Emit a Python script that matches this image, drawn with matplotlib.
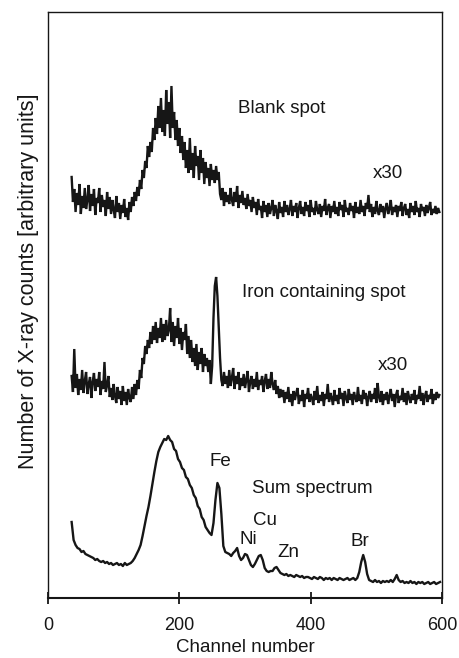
import matplotlib
matplotlib.use("Agg")
import matplotlib.pyplot as plt
import numpy as np

plt.rcParams['font.family'] = ['Liberation Sans', 'DejaVu Sans']

# Channel numbers of the two x30 spectra (every 2nd channel, 36 .. 596)
channels_x30 = list(range(36, 597, 2))
# Channel numbers of the sum spectrum (every 3rd channel, 36 .. 597)
channels_sum = list(range(36, 598, 3))

# Blank spot spectrum (x30, offset), arbitrary units
blank = [
    421, 396, 409, 386, 405, 393, 414, 384, 402, 390,
    410, 389, 398, 413, 387, 404, 392, 409, 383, 400,
    395, 410, 386, 403, 391, 398, 382, 406, 389, 401,
    384, 398, 388, 380, 402, 386, 395, 379, 393, 385,
    399, 381, 390, 378, 396, 386, 401, 392, 406, 397,
    411, 402, 418, 409, 428, 420, 437, 430, 452, 441,
    456, 446, 470, 458, 480, 464, 492, 470, 500, 466,
    488, 462, 508, 474, 496, 460, 512, 470, 486, 458,
    478, 452, 470, 445, 462, 438, 456, 430, 448, 425,
    460, 428, 445, 420, 452, 432, 442, 418, 448, 425,
    440, 414, 436, 420, 430, 412, 434, 418, 428, 415,
    432, 418, 426, 404, 398, 410, 392, 406, 396, 403,
    394, 410, 398, 392, 406, 396, 412, 390, 403, 395,
    407, 393, 400, 389, 404, 392, 398, 386, 401, 390,
    396, 383, 399, 388, 392, 380, 397, 386, 393, 381,
    395, 384, 390, 398, 382, 393, 387, 379, 396, 385,
    391, 381, 397, 386, 393, 383, 389, 398, 382, 392,
    386, 395, 380, 390, 397, 384, 391, 382, 396, 387,
    393, 381, 398, 386, 390, 383, 397, 388, 384, 394,
    381, 392, 387, 399, 383, 390, 394, 380, 392, 386,
    397, 384, 391, 382, 396, 388, 393, 381, 398, 386,
    390, 383, 395, 387, 392, 380, 396, 385, 391, 384,
    398, 386, 392, 382, 395, 389, 403, 386, 394, 381,
    391, 384, 397, 387, 383, 394, 386, 392, 380, 390,
    395, 384, 389, 398, 383, 391, 386, 393, 381, 392,
    387, 396, 382, 390, 394, 383, 389, 380, 395, 386,
    392, 383, 397, 386, 390, 381, 394, 387, 391, 382,
    393, 385, 390, 396, 383, 389, 385, 392, 384, 390,
    386,
]

# Iron containing spot spectrum (x30, offset)
iron = [
    222, 206, 249, 210, 224, 203, 219, 208, 228, 205,
    217, 226, 204, 214, 221, 200, 216, 225, 207, 219,
    211, 226, 203, 217, 209, 236, 206, 213, 222, 201,
    210, 198, 214, 202, 195, 211, 199, 207, 193, 212,
    197, 206, 193, 209, 200, 196, 211, 199, 214, 203,
    218, 209, 228, 220, 240, 234, 252, 244, 258, 250,
    266, 254, 272, 258, 276, 255, 270, 260, 280, 256,
    274, 258, 278, 262, 268, 290, 256, 276, 252, 272,
    260, 280, 254, 270, 248, 266, 258, 274, 244, 262,
    240, 258, 236, 250, 232, 254, 228, 246, 234, 250,
    226, 244, 232, 240, 226, 238, 214, 232, 280, 312,
    321, 302, 272, 240, 218, 212, 226, 214, 222, 210,
    228, 212, 220, 230, 209, 222, 214, 226, 208, 220,
    212, 224, 210, 218, 227, 206, 216, 222, 209, 219,
    211, 226, 208, 218, 213, 222, 206, 217, 224, 209,
    219, 210, 226, 214, 208, 218, 204, 212, 200, 209,
    201, 208, 195, 206, 199, 211, 196, 204, 192, 207,
    198, 205, 210, 194, 203, 197, 208, 191, 204, 199,
    210, 196, 204, 200, 193, 207, 198, 212, 195, 203,
    197, 206, 192, 204, 199, 214, 196, 205, 200, 193,
    208, 197, 203, 194, 210, 199, 205, 192, 207, 200,
    195, 209, 198, 204, 193, 206, 200, 196, 211, 197,
    203, 194, 208, 199, 205, 192, 201, 207, 196, 204,
    199, 210, 195, 215, 201, 196, 207, 193, 204, 198,
    206, 194, 202, 209, 197, 204, 191, 203, 208, 195,
    202, 198, 210, 196, 205, 193, 207, 200, 195, 204,
    198, 208, 194, 203, 199, 212, 197, 205, 193, 202,
    207, 196, 203, 199, 209, 194, 204, 198, 206, 200,
    203,
]

# Sum spectrum
sum_spec = [
    76, 58, 53, 50, 49, 46, 47, 44, 43, 42,
    41, 40, 38, 39, 37, 36, 37, 35, 36, 34,
    35, 33, 34, 35, 33, 34, 32, 35, 33, 34,
    35, 37, 40, 44, 48, 53, 62, 72, 82, 91,
    102, 114, 126, 137, 146, 151, 155, 159, 158, 162,
    158, 156, 149, 147, 139, 136, 130, 128, 121, 119,
    113, 110, 103, 100, 92, 89, 81, 78, 71, 68,
    65, 63, 75, 98, 115, 110, 84, 52, 46, 45,
    44, 42, 45, 47, 50, 42, 38, 40, 44, 43,
    38, 33, 31, 34, 38, 42, 43, 38, 30, 27,
    26, 27, 27, 30, 31, 28, 25, 24, 23, 24,
    22, 23, 22, 21, 23, 22, 21, 22, 20, 21,
    21, 20, 19, 21, 20, 19, 21, 20, 18, 20,
    19, 20, 18, 20, 19, 18, 20, 19, 18, 19,
    20, 18, 19, 20, 18, 20, 26, 36, 43, 36,
    24, 18, 17, 16, 18, 16, 17, 15, 17, 16,
    17, 16, 18, 16, 19, 23, 18, 16, 17, 15,
    16, 15, 17, 15, 16, 14, 16, 15, 16, 14,
    15, 16, 14, 15, 16, 14, 15, 16,
]

x_ticks = [0, 200, 400, 600]
x_ticklabels = ["0", "200", "400", "600"]

fig = plt.figure(figsize=(4.59, 6.58), dpi=100)
ax = fig.add_axes([48 / 459, 1 - 598 / 658, 394 / 459, 586 / 658])

line_color = "#161616"
ax.plot(channels_x30, blank, color=line_color, lw=1.7, solid_joinstyle='miter')
ax.plot(channels_x30, iron, color=line_color, lw=1.7, solid_joinstyle='miter')
ax.plot(channels_sum, sum_spec, color=line_color, lw=1.7)

ax.set_xlim(0, 600)
ax.set_ylim(0, 586)
ax.set_yticks([])
ax.set_xticks(x_ticks)
ax.set_xticklabels(x_ticklabels, fontsize=13)
ax.tick_params(axis='x', direction='inout', length=9, width=1.3, pad=9,
               colors=line_color)

for side in ['left', 'right', 'top']:
    ax.spines[side].set_linewidth(1.0)
    ax.spines[side].set_color(line_color)
ax.spines['bottom'].set_linewidth(1.5)
ax.spines['bottom'].set_color(line_color)

ax.set_xlabel("Channel number", fontsize=13.5, color=line_color)
ax.xaxis.set_label_coords(0.5, (598 - 648) / 586)
ax.xaxis.label.set_va('center')

fig.text(29 / 459, 1 - 281 / 658, "Number of X-ray counts [arbitrary units]",
         rotation=90, ha='center', va='center', fontsize=15.5, color=line_color)

fs = 13.5
ax.text(289, 485, "Blank spot", fontsize=fs, ha='left', va='baseline', color=line_color)
ax.text(495, 420, "x30", fontsize=fs, ha='left', va='baseline', color=line_color)
ax.text(295, 301, "Iron containing spot", fontsize=fs, ha='left', va='baseline', color=line_color)
ax.text(502, 228, "x30", fontsize=fs, ha='left', va='baseline', color=line_color)
ax.text(263, 132, "Fe", fontsize=fs, ha='center', va='baseline', color=line_color)
ax.text(311, 105, "Sum spectrum", fontsize=fs, ha='left', va='baseline', color=line_color)
ax.text(330, 73, "Cu", fontsize=fs, ha='center', va='baseline', color=line_color)
ax.text(305, 54, "Ni", fontsize=fs, ha='center', va='baseline', color=line_color)
ax.text(366, 41, "Zn", fontsize=fs, ha='center', va='baseline', color=line_color)
ax.text(475, 52, "Br", fontsize=fs, ha='center', va='baseline', color=line_color)

fig.savefig("out.png", dpi=100)
